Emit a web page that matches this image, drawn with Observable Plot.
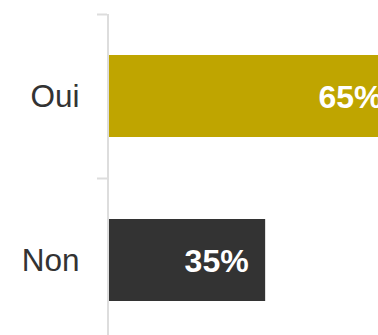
<!DOCTYPE html>
<html>
<head>
<meta charset="utf-8">
<script src="https://cdn.jsdelivr.net/npm/d3@7"></script>
<script src="https://cdn.jsdelivr.net/npm/@observablehq/plot@0.6"></script>
<style>
  html, body { margin: 0; padding: 0; overflow: hidden; background: #fff; width: 378px; height: 335px; }
  #chart svg { display: block; max-width: none !important; }
</style>
</head>
<body>
<div id="chart"></div>
<script>
const categories = ["Oui", "Non"];
const values = [65, 35];
const colors = ["#BFA500", "#333333"];
const valueLabels = ["65%", "35%"];

const data = categories.map((c, i) => ({cat: c, value: values[i], color: colors[i], label: valueLabels[i]}));

const chart = Plot.plot({
  width: 400,
  height: 342,
  marginLeft: 109,
  marginRight: 1,
  marginTop: 14,
  marginBottom: 0,
  style: {fontFamily: "'Liberation Sans', Arial, sans-serif", background: "#fff", maxWidth: "none"},
  x: {domain: [0, 65], axis: null},
  y: {domain: categories, padding: 0, axis: null},
  marks: [
    Plot.barX(data, {y: "cat", x: "value", fill: "color", insetTop: 41, insetBottom: 41}),
    Plot.ruleX([0], {stroke: "#dddddd", strokeWidth: 2, dx: -1.5}),
    Plot.axisY({tickSize: 10, text: null, label: null, stroke: "#dddddd", strokeWidth: 2, dy: -82, dx: -2}),
    Plot.axisY({tickSize: 0, tickPadding: 30, fontSize: 31.5, fill: "#333333", label: null}),
    Plot.text(data, {y: "cat", x: "value", text: "label", textAnchor: "end", dx: -17, dy: 1, fill: "#ffffff", fontSize: 32, fontWeight: "bold"})
  ]
});
document.getElementById("chart").appendChild(chart);
</script>
</body>
</html>
